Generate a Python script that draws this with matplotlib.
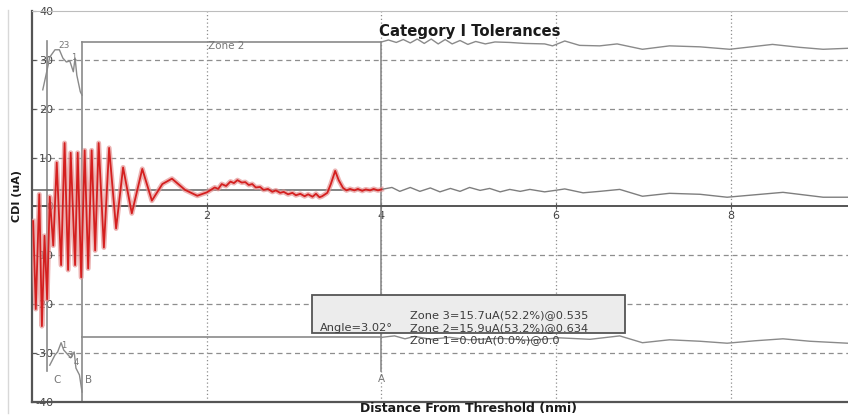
import matplotlib
matplotlib.use("Agg")
import matplotlib.pyplot as plt
from matplotlib.patches import Rectangle
from matplotlib.lines import Line2D

# CDI trace inside zone 2/1 (red) - nmi, uA
cdi_x = [0.01, 0.04, 0.08, 0.11, 0.14, 0.17, 0.20, 0.24, 0.28, 0.33, 0.37, 0.41,
         0.44, 0.49, 0.52, 0.56, 0.60, 0.64, 0.68, 0.72, 0.76, 0.82, 0.88, 0.96,
         1.04, 1.14, 1.26, 1.37, 1.49, 1.60, 1.75, 1.89, 2.00, 2.09, 2.13, 2.17,
         2.22, 2.27, 2.31, 2.35, 2.40, 2.44, 2.48, 2.52, 2.56, 2.61, 2.65, 2.70,
         2.75, 2.79, 2.84, 2.88, 2.93, 2.98, 3.02, 3.07, 3.12, 3.16, 3.21, 3.25,
         3.29, 3.32, 3.38, 3.42, 3.47, 3.51, 3.56, 3.60, 3.64, 3.69, 3.73, 3.78,
         3.82, 3.87, 3.91, 3.96, 4.00]
cdi_y = [-3, -21, 2.5, -24.5, -6, -19, 2, -8, 9, -12, 13, -13,
         11, -12, 11, -14.5, 11.5, -12.7, 11.5, -9, 13, -8.4, 12, -4.5,
         8, -1.4, 7.7, 1.2, 4.6, 5.7, 3.4, 2.2, 2.9, 3.9, 3.6, 4.6,
         4.2, 5.1, 4.8, 5.4, 4.9, 5.0, 4.4, 4.6, 3.9, 4.0, 3.4, 3.6,
         3.0, 3.3, 2.8, 3.0, 2.5, 2.8, 2.3, 2.6, 2.1, 2.5, 2.0, 2.6,
         1.9, 2.1, 2.8, 4.6, 7.3, 5.4, 3.8, 3.3, 3.6, 3.3, 3.6, 3.2,
         3.5, 3.3, 3.6, 3.3, 3.5]

# CDI trace beyond point A (gray)
far_x = [4.00, 4.12, 4.21, 4.33, 4.44, 4.56, 4.67, 4.79, 4.90, 5.01, 5.13, 5.24,
         5.36, 5.47, 5.59, 5.70, 5.87, 5.99, 6.10, 6.31, 6.50, 6.73, 6.99, 7.30,
         7.65, 7.96, 8.28, 8.60, 8.83, 9.06, 9.34]
far_y = [3.5, 3.9, 3.1, 3.9, 3.1, 3.8, 3.0, 3.7, 3.1, 3.9, 3.3, 3.7,
         3.0, 3.5, 3.1, 3.5, 3.0, 3.3, 3.6, 2.8, 3.1, 3.5, 2.1, 2.7,
         2.5, 1.9, 2.4, 2.9, 2.4, 1.9, 1.9]

# tolerance envelopes beyond point A
upper_x = [4.00, 4.08, 4.17, 4.25, 4.33, 4.41, 4.49, 4.57, 4.65, 4.73, 4.81, 4.90,
           4.99, 5.08, 5.19, 5.30, 5.47, 5.64, 5.87, 5.96, 6.10, 6.27, 6.50, 6.70,
           6.99, 7.30, 7.65, 7.99, 8.48, 8.79, 9.06, 9.34]
upper_y = [33.7, 34.1, 33.6, 34.2, 33.5, 34.3, 33.4, 34.3, 33.3, 34.2, 33.3, 34.0,
           33.2, 33.8, 33.3, 33.7, 33.6, 33.4, 33.3, 32.9, 33.9, 33.0, 32.9, 33.3,
           32.2, 32.9, 32.7, 32.2, 33.2, 32.6, 32.2, 32.4]
lower_x = [4.00, 4.15, 4.27, 4.38, 4.56, 4.78, 5.01, 5.36, 5.70, 6.04, 6.39, 6.73,
           6.99, 7.30, 7.65, 7.96, 8.28, 8.60, 8.91, 9.34]
lower_y = [-26.8, -26.5, -27.1, -26.6, -27.2, -26.8, -27.3, -27.0, -27.4, -26.9,
           -27.2, -26.5, -27.9, -27.3, -27.6, -28.0, -27.5, -27.1, -27.6, -28.0]

# tolerance traces between C and B
cb_up_x = [0.12, 0.17, 0.20, 0.26, 0.31, 0.35, 0.39, 0.43, 0.47, 0.49, 0.51, 0.55, 0.57]
cb_up_y = [23.9, 28.0, 30.6, 32.1, 32.1, 30.4, 29.6, 29.8, 27.6, 30.4, 26.9, 23.5, 22.8]
cb_lo_x = [0.20, 0.26, 0.29, 0.33, 0.36, 0.41, 0.44, 0.48, 0.50, 0.54, 0.57]
cb_lo_y = [-32.5, -30.4, -29.8, -27.9, -29.4, -30.4, -31.0, -29.8, -33.1, -34.5, -38.0]

# zone boundaries
point_c, point_b, point_a = 0.17, 0.57, 4.0
zone2_top, zone2_bottom = 33.6, -26.8
cdi_mean = 3.3

x_ticks = [2, 4, 6, 8]
y_ticks = [-40, -30, -20, -10, 0, 10, 20, 30, 40]

zone_lines = [
    "Zone 3=15.7uA(52.2%)@0.535",
    "Zone 2=15.9uA(53.2%)@0.634",
    "Zone 1=0.0uA(0.0%)@0.0",
]

W, H = 848, 416
fig = plt.figure(figsize=(W / 100, H / 100), dpi=100)
ax = fig.add_axes([32.3 / W, (H - 401.8) / H, (W - 32.3) / W, 390.6 / H])
ax.set_xlim(0, 9.345)
ax.set_ylim(-40, 40)

grid_c = "#8e8e8e"
line_c = "#8a8a8a"
dark_c = "#555555"

# grid
for yv in [-30, -20, -10, 10, 20, 30]:
    ax.axhline(yv, color=grid_c, lw=0.9, ls=(0, (4, 3)), zorder=1)
for xv in x_ticks:
    ax.axvline(xv, color=grid_c, lw=0.9, ls=(0, (1, 2)), zorder=1)

# zone boundary lines
ax.plot([point_c, point_c], [33.8, -33.6], color=line_c, lw=1.2, zorder=2)
ax.plot([point_b, point_b], [zone2_top, -40], color=line_c, lw=1.2, zorder=2)
ax.plot([point_a, point_a], [zone2_top, -33.6], color=line_c, lw=1.2, zorder=2)
ax.plot([point_b, point_a], [zone2_top, zone2_top], color=line_c, lw=1.2, zorder=2)
ax.plot([point_b, point_a], [zone2_bottom, zone2_bottom], color=line_c, lw=1.2, zorder=2)
ax.plot([0, point_a], [cdi_mean, cdi_mean], color="#6e6e6e", lw=1.2, zorder=2)

ax.plot(upper_x, upper_y, color=line_c, lw=1.0, zorder=2)
ax.plot(lower_x, lower_y, color=line_c, lw=1.0, zorder=2)
ax.plot(cb_up_x, cb_up_y, color="#8a8a8a", lw=1.0, zorder=2)
ax.plot(cb_lo_x, cb_lo_y, color="#8a8a8a", lw=1.0, zorder=2)

# CDI trace
ax.plot(cdi_x, cdi_y, color="#e49494", lw=3.6, alpha=0.7, zorder=3)
ax.plot(cdi_x, cdi_y, color="#d41f1f", lw=1.3, zorder=4)
ax.plot(far_x, far_y, color="#7e7e7e", lw=1.0, zorder=3)

# axes frame: zero line carries the x ticks
ax.spines["right"].set_visible(False)
ax.spines["top"].set_color("#bdbdbd")
ax.spines["left"].set_color(dark_c)
ax.spines["left"].set_linewidth(1.6)
ax.spines["bottom"].set_position(("data", 0))
ax.spines["bottom"].set_color(dark_c)
ax.spines["bottom"].set_linewidth(1.4)
ax.axhline(-40, color=dark_c, lw=1.6, clip_on=False, zorder=5)

ax.set_xticks(x_ticks)
ax.set_xticklabels([str(v) for v in x_ticks])
ax.set_yticks(y_ticks)
ax.set_yticklabels([str(v) for v in y_ticks])
ax.tick_params(axis="x", direction="inout", length=5, pad=1, labelsize=8,
               labelcolor="#444444", color=dark_c)
ax.tick_params(axis="y", direction="in", length=3, pad=-15, labelsize=8,
               labelcolor="#444444", color=dark_c)

# point labels
ax.text(2.01, 32.9, "Zone 2", fontsize=7.5, color="#777777", va="center")
ax.text(0.36, 32.9, "23", fontsize=6.5, color="#777777", va="center", ha="center")
ax.text(0.45, 30.6, "1", fontsize=6, color="#777777", va="center")
ax.text(0.33, -28.5, "1", fontsize=6, color="#777777", va="center")
ax.text(0.40, -30.6, "3", fontsize=6, color="#777777", va="center")
ax.text(0.47, -32.0, "4", fontsize=6, color="#777777", va="center")
ax.text(0.28, -35.5, "C", fontsize=7.5, color="#777777", va="center", ha="center")
ax.text(0.64, -35.5, "B", fontsize=7.5, color="#777777", va="center", ha="center")
ax.text(4.0, -35.3, "A", fontsize=7.5, color="#777777", va="center", ha="center")

# readout box
ax.add_patch(Rectangle((3.20, -25.9), 3.59, 7.8, facecolor="#ececec",
                       edgecolor=dark_c, lw=1.3, zorder=6))
for txt, yv in zip(zone_lines, [-22.2, -24.9, -27.4]):
    ax.text(4.33, yv, txt, fontsize=8.2, color="#3c3c3c", va="center", zorder=7)
ax.text(3.29, -24.9, "Angle=3.02°", fontsize=8.2, color="#3c3c3c", va="center", zorder=7)

# titles
fig.text(470 / W, 1 - 36 / H, "Category I Tolerances", fontsize=10.7,
         fontweight="bold", ha="center", va="baseline", color="#1a1a1a")
fig.text(469 / W, 1 - 402 / H, "Distance From Threshold (nmi)", fontsize=9,
         fontweight="bold", ha="center", va="top", color="#1a1a1a")
fig.text(17 / W, 1 - 196 / H, "CDI (uA)", fontsize=8, fontweight="bold",
         rotation=90, ha="center", va="center", color="#1a1a1a")

fig.add_artist(Line2D([8 / W, 8 / W], [3 / H, 1 - 10 / H], color="#d8d8d8", lw=1))

fig.savefig("out.png", dpi=100)
